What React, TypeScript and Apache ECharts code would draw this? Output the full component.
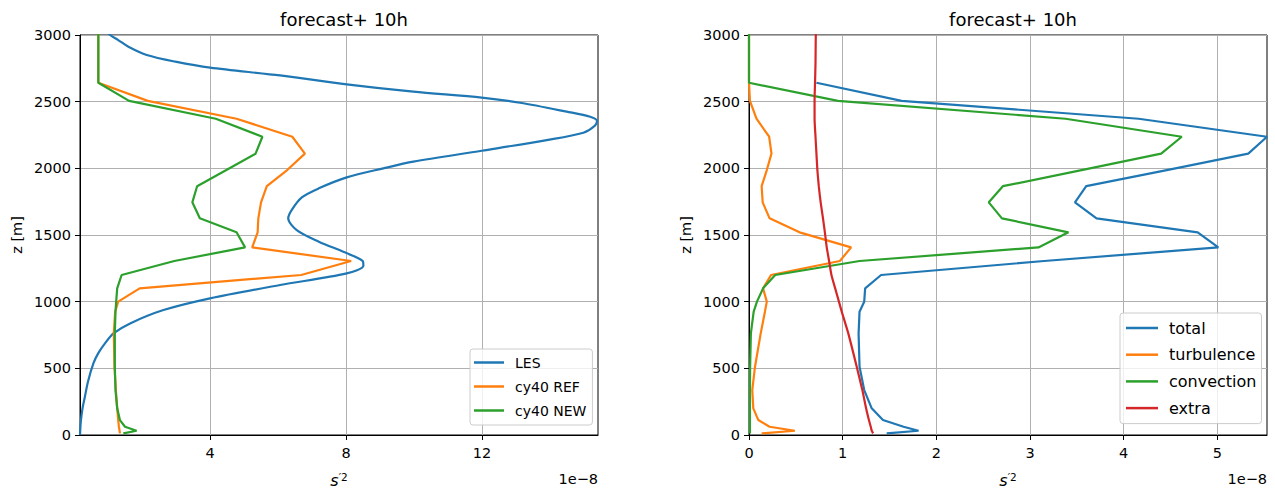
import React, { useEffect, useRef } from 'react';
import * as echarts from 'echarts';

// LES profile (fine resolution)
const zLES = [0, 100, 200, 287, 400, 537, 612, 687, 762, 837, 937, 1025, 1125, 1212, 1270, 1300, 1325, 1375, 1450, 1537, 1625, 1687, 1782, 1850, 1932, 2000, 2050, 2132, 2212, 2267, 2320, 2355, 2387, 2425, 2492, 2530, 2575, 2630, 2697, 2755, 2800, 2850, 2912, 2962, 3000, 3050];
const sLES = [0.176, 0.2, 0.25, 0.32, 0.41, 0.57, 0.71, 0.91, 1.16, 1.65, 2.63, 4.0, 6.06, 8.02, 8.51, 8.5, 8.36, 7.92, 7.2, 6.55, 6.3, 6.4, 6.7, 7.2, 8.02, 9.1, 9.98, 11.99, 13.9, 14.98, 15.32, 15.38, 15.18, 14.49, 13.12, 11.99, 9.98, 8.02, 6.06, 4.0, 2.98, 2.14, 1.6, 1.3, 1.06, 0.85];

// model levels
const zModel = [12, 32, 62, 112, 200, 337, 512, 762, 925, 1000, 1100, 1200, 1305, 1407, 1520, 1625, 1745, 1866, 1987, 2110, 2237, 2372, 2506, 2642, 2790, 2940, 3100];
const cy40Ref = [1.35, 1.34, 1.32, 1.3, 1.27, 1.23, 1.19, 1.17, 1.21, 1.3, 1.93, 6.68, 8.15, 5.24, 5.4, 5.42, 5.5, 5.67, 6.27, 6.79, 6.42, 4.78, 2.17, 0.715, 0.715, 0.715, 0.715];
const cy40New = [1.45, 1.84, 1.5, 1.35, 1.27, 1.22, 1.2, 1.2, 1.22, 1.24, 1.27, 1.4, 2.95, 5.03, 4.78, 3.7, 3.48, 3.62, 4.48, 5.34, 5.54, 4.17, 1.62, 0.715, 0.715, 0.715, 0.715];

const total = [1.47, 1.81, 1.65, 1.43, 1.31, 1.23, 1.18, 1.17, 1.18, 1.23, 1.24, 1.41, 3.15, 5.01, 4.79, 3.71, 3.48, 3.6, 4.46, 5.33, 5.53, 4.16, 1.63, 0.72, null, null, null];
const turbulence = [0.135, 0.49, 0.22, 0.1, 0.046, 0.035, 0.064, 0.125, 0.17, 0.19, 0.15, 0.235, 0.97, 1.09, 0.54, 0.22, 0.146, 0.135, 0.19, 0.24, 0.215, 0.08, 0.01, 0, 0, 0, 0];
const convection = [0.01, 0.01, 0.01, 0.01, 0.01, 0.01, 0.012, 0.02, 0.05, 0.085, 0.15, 0.28, 1.18, 3.09, 3.41, 2.7, 2.56, 2.71, 3.55, 4.4, 4.62, 3.38, 0.95, 0, 0, 0, 0];
const extra = [1.325, 1.31, 1.3, 1.28, 1.25, 1.21, 1.15, 1.06, 0.99, 0.96, 0.92, 0.88, 0.855, 0.83, 0.81, 0.79, 0.765, 0.745, 0.73, 0.72, 0.71, 0.7, 0.7, 0.705, 0.71, 0.712, 0.715];

const leftTicks = [4, 8, 12];
const rightTicks = [0, 1, 2, 3, 4, 5];
const titleText = 'forecast+ 10h';
const leftNames = ['LES', 'cy40 REF', 'cy40 NEW'];
const rightNames = ['total', 'turbulence', 'convection', 'extra'];

const C = { blue: '#1f77b4', orange: '#ff7f0e', green: '#2ca02c', red: '#d62728' };
const FONT = 'DejaVu Sans';

function pairs(xs: (number | null)[], zs: number[]) {
  const out: number[][] = [];
  xs.forEach((x, i) => { if (x !== null) out.push([x, zs[i]]); });
  return out;
}

export default function App() {
  const ref = useRef<HTMLDivElement>(null);
  useEffect(() => {
    if (!ref.current) return;
    const chart = echarts.init(ref.current, null, { renderer: 'svg' });

    const yAxisBase = (gridIndex: number) => ({
      type: 'value', gridIndex, min: 0, max: 3000, interval: 500,
      axisLine: { show: true, lineStyle: { color: '#000', width: 1 } },
      axisTick: { show: true, length: 5, lineStyle: { color: '#000', width: 1 } },
      axisLabel: { fontSize: 14.5, color: '#000', margin: 9, fontFamily: FONT, formatter: (v: number) => String(v) },
      splitLine: { show: true, lineStyle: { color: '#b0b0b0', width: 1 } },
      name: 'z [m]', nameLocation: 'middle', nameGap: 56,
      nameTextStyle: { fontSize: 14.5, color: '#000', fontFamily: FONT },
    });
    const xName = {
      name: '{a|s}{b|′2}', nameLocation: 'middle', nameGap: 36,
      nameTextStyle: {
        rich: {
          a: { fontSize: 16, fontStyle: 'italic', fontFamily: FONT, color: '#000' },
          b: { fontSize: 10.5, fontFamily: FONT, color: '#000', verticalAlign: 'top', padding: [0, 0, 7, 0] },
        },
      },
    };
    const xAxisCommon = {
      type: 'value',
      axisLine: { show: true, onZero: false, lineStyle: { color: '#000', width: 1 } },
      axisLabel: { fontSize: 14.5, color: '#000', margin: 10, fontFamily: FONT },
      splitLine: { show: true, lineStyle: { color: '#b0b0b0', width: 1 } },
    };

    const line = (name: string, color: string, data: number[][], xi: number, extraOpt: any = {}) => ({
      type: 'line', name, data, xAxisIndex: xi, yAxisIndex: xi, showSymbol: false, symbol: 'none',
      lineStyle: { color, width: 2.2 }, itemStyle: { color }, clip: true, ...extraOpt,
    });

    const legendBase = {
      orient: 'vertical', icon: 'rect',
      borderColor: '#cccccc', borderWidth: 1, borderRadius: 3, backgroundColor: 'rgba(255,255,255,0.8)',
      inactiveColor: '#ccc',
    };

    chart.setOption({
      animation: false,
      backgroundColor: '#fff',
      textStyle: { fontFamily: FONT },
      title: [
        { text: titleText, left: 339, top: 5, textAlign: 'center', textStyle: { fontSize: 18, fontWeight: 'normal', color: '#000', fontFamily: FONT } },
        { text: titleText, left: 1008, top: 5, textAlign: 'center', textStyle: { fontSize: 18, fontWeight: 'normal', color: '#000', fontFamily: FONT } },
      ],
      grid: [
        { left: 80, right: 677, top: 35, bottom: 58, show: true, borderColor: '#000', borderWidth: 1, backgroundColor: 'transparent' },
        { left: 749, right: 8, top: 35, bottom: 58, show: true, borderColor: '#000', borderWidth: 1, backgroundColor: 'transparent' },
      ],
      xAxis: [
        {
          ...xAxisCommon, ...xName, gridIndex: 0, min: 0.176, max: 15.41,
          axisTick: { show: true, length: 5, customValues: leftTicks, lineStyle: { color: '#000' } },
          axisLabel: { ...xAxisCommon.axisLabel, customValues: leftTicks },
        },
        {
          ...xAxisCommon, ...xName, gridIndex: 1, min: 0, max: 5.53,
          axisTick: { show: true, length: 5, customValues: rightTicks, lineStyle: { color: '#000' } },
          axisLabel: { ...xAxisCommon.axisLabel, customValues: rightTicks },
        },
      ],
      yAxis: [yAxisBase(0), yAxisBase(1)],
      legend: [
        {
          ...legendBase, data: leftNames, left: 470, top: 349, itemWidth: 30, itemHeight: 2.5, itemGap: 7,
          padding: [5, 6, 6, 4],
          textStyle: { fontSize: 14, color: '#000', fontFamily: FONT, lineHeight: 17, padding: [0, 0, 0, 6] },
        },
        {
          ...legendBase, data: rightNames, left: 1120, top: 313, itemWidth: 32, itemHeight: 2.5, itemGap: 7.7,
          padding: [5.5, 5, 6, 6],
          textStyle: { fontSize: 16, color: '#000', fontFamily: FONT, lineHeight: 19, padding: [0, 0, 0, 6] },
        },
      ],
      graphic: [
        { type: 'text', right: 1275 - 598, top: 471, style: { text: '1e−8', fontSize: 14.5, fill: '#000', fontFamily: FONT } },
        { type: 'text', right: 8, top: 471, style: { text: '1e−8', fontSize: 14.5, fill: '#000', fontFamily: FONT } },
      ],
      series: [
        line('LES', C.blue, pairs(sLES, zLES), 0, { smooth: 0.3 }),
        line('cy40 REF', C.orange, pairs(cy40Ref, zModel), 0),
        line('cy40 NEW', C.green, pairs(cy40New, zModel), 0),
        line('total', C.blue, pairs(total, zModel), 1),
        line('turbulence', C.orange, pairs(turbulence, zModel), 1),
        line('convection', C.green, pairs(convection, zModel), 1),
        line('extra', C.red, pairs(extra, zModel), 1, { smooth: 0.2 }),
      ],
    });
    return () => chart.dispose();
  }, []);
  return <div ref={ref} style={{ position: 'fixed', left: 0, top: 0, width: 1275, height: 493 }} />;
}
